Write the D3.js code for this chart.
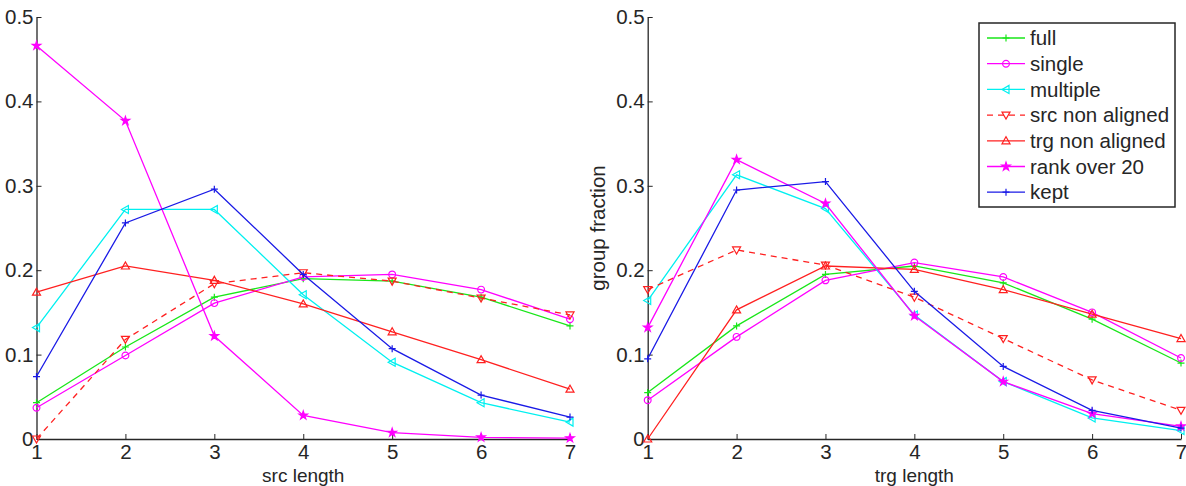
<!DOCTYPE html>
<html><head><meta charset="utf-8">
<script src="https://cdn.jsdelivr.net/npm/d3@7"></script>
<style>
body{margin:0;background:#fff;}
text{font-family:"Liberation Sans",Arial,sans-serif;fill:#262626;}
</style></head><body>
<svg id="c" width="1186" height="486"></svg>
<script>
const lengths = [1,2,3,4,5,6,7];
const yTicks = [0,0.1,0.2,0.3,0.4,0.5];
const seriesNames = ["full","single","multiple","src non aligned","trg non aligned","rank over 20","kept"];
const seriesColors = ["#19e619","#ff00ff","#00f0f0","#ff2020","#ff2020","#ff00ff","#1a1ae6"];
const seriesMarkers = ["plus","circle","triLeft","triDown","triUp","star","plus"];
const seriesDash = [null,null,null,"6,5",null,null,null];

// src length panel
const srcFull     = [0.043,0.109,0.168,0.190,0.187,0.168,0.134];
const srcSingle   = [0.037,0.099,0.161,0.192,0.195,0.177,0.142];
const srcMultiple = [0.132,0.272,0.272,0.171,0.091,0.043,0.020];
const srcSrcNA    = [0.000,0.118,0.184,0.197,0.187,0.167,0.147];
const srcTrgNA    = [0.174,0.205,0.188,0.160,0.127,0.094,0.059];
const srcRank20   = [0.466,0.377,0.122,0.028,0.0075,0.002,0.001];
const srcKept     = [0.074,0.256,0.296,0.195,0.107,0.052,0.026];

// trg length panel
const trgFull     = [0.055,0.134,0.195,0.205,0.185,0.142,0.090];
const trgSingle   = [0.046,0.121,0.188,0.209,0.192,0.150,0.096];
const trgMultiple = [0.164,0.313,0.273,0.147,0.068,0.025,0.010];
const trgSrcNA    = [0.177,0.224,0.206,0.168,0.119,0.070,0.034];
const trgTrgNA    = [0.000,0.153,0.205,0.201,0.177,0.148,0.119];
const trgRank20   = [0.132,0.331,0.279,0.146,0.068,0.030,0.015];
const trgKept     = [0.095,0.295,0.305,0.175,0.086,0.034,0.013];

const panels = [
  {x0:36.5, x1:570, xlabel:"src length", ylabel:null, legend:false,
   series:[srcFull,srcSingle,srcMultiple,srcSrcNA,srcTrgNA,srcRank20,srcKept]},
  {x0:647.7, x1:1181, xlabel:"trg length", ylabel:"group fraction", legend:true,
   series:[trgFull,trgSingle,trgMultiple,trgSrcNA,trgTrgNA,trgRank20,trgKept]}
];
const yTop = 17, yBot = 439;
const FS = 20.5;
const svg = d3.select("#c");

function markerPath(type){
  switch(type){
    case "plus": return "M-3.5,0H3.5M0,-3.5V3.5";
    case "circle": return d3.symbol(d3.symbolCircle, 36)();
    case "triLeft": return "M-4,0L3,-4L3,4Z";
    case "triDown": return "M-4,-3L4,-3L0,4Z";
    case "triUp": return "M-4,3L4,3L0,-4Z";
    case "star": return d3.symbol(d3.symbolStar, 22)();
  }
}
function drawMarker(g, type, color, x, y){
  const filled = type==="star";
  g.append("path").attr("d", markerPath(type))
    .attr("transform", `translate(${x},${y})`)
    .attr("fill", filled ? color : "none")
    .attr("stroke", color).attr("stroke-width", 1.2);
}

panels.forEach(p => {
  const x = d3.scaleLinear().domain([1,7]).range([p.x0, p.x1]);
  const y = d3.scaleLinear().domain([0,0.5]).range([yBot, yTop]);
  const g = svg.append("g");

  const xa = g.append("g").attr("transform", `translate(0,${yBot})`)
    .call(d3.axisBottom(x).tickValues(lengths).tickFormat(d3.format("d")).tickSizeInner(-5).tickSizeOuter(0).tickPadding(5));
  const ya = g.append("g").attr("transform", `translate(${p.x0},0)`)
    .call(d3.axisLeft(y).tickValues(yTicks).tickFormat(d => d===0 ? "0" : d3.format(".1f")(d)).tickSizeInner(-5).tickSizeOuter(0).tickPadding(3));
  [xa, ya].forEach(a => {
    a.attr("font-size", FS).attr("font-family","Liberation Sans, Arial, sans-serif");
    a.select(".domain").attr("stroke","#262626").attr("stroke-width",1.3);
    a.selectAll(".tick line").attr("stroke","#262626");
    a.selectAll(".tick text").attr("font-size",FS).attr("fill","#262626");
  });
  xa.selectAll(".tick text").attr("dy","0.71em");

  g.append("text").attr("x",(p.x0+p.x1)/2).attr("y",482).attr("text-anchor","middle")
    .attr("font-size",19).text(p.xlabel);
  if(p.ylabel){
    g.append("text").attr("transform",`translate(${p.x0-43},${(yTop+yBot)/2}) rotate(-90)`)
      .attr("text-anchor","middle").attr("font-size",FS).text(p.ylabel);
  }

  const line = d3.line().x((d,i)=>x(lengths[i])).y(d=>y(d));
  p.series.forEach((vals, si) => {
    const sg = g.append("g");
    sg.append("path").datum(vals).attr("d", line).attr("fill","none")
      .attr("stroke", seriesColors[si]).attr("stroke-width",1.3)
      .attr("stroke-dasharray", seriesDash[si]);
    vals.forEach((v,i) => drawMarker(sg, seriesMarkers[si], seriesColors[si], x(lengths[i]), y(v)));
  });

  if(p.legend){
    const lg = g.append("g");
    lg.append("rect").attr("x",979).attr("y",23).attr("width",196).attr("height",184)
      .attr("fill","#fff").attr("stroke","#262626").attr("stroke-width",1.5);
    seriesNames.forEach((n,i) => {
      const yy = 38 + i*25.7;
      lg.append("line").attr("x1",987).attr("x2",1025).attr("y1",yy).attr("y2",yy)
        .attr("stroke",seriesColors[i]).attr("stroke-width",1.3).attr("stroke-dasharray",seriesDash[i]);
      drawMarker(lg, seriesMarkers[i], seriesColors[i], 1006, yy);
      lg.append("text").attr("x",1030).attr("y",yy).attr("dy","0.35em").attr("font-size",FS).text(n);
    });
  }
});
</script></body></html>
